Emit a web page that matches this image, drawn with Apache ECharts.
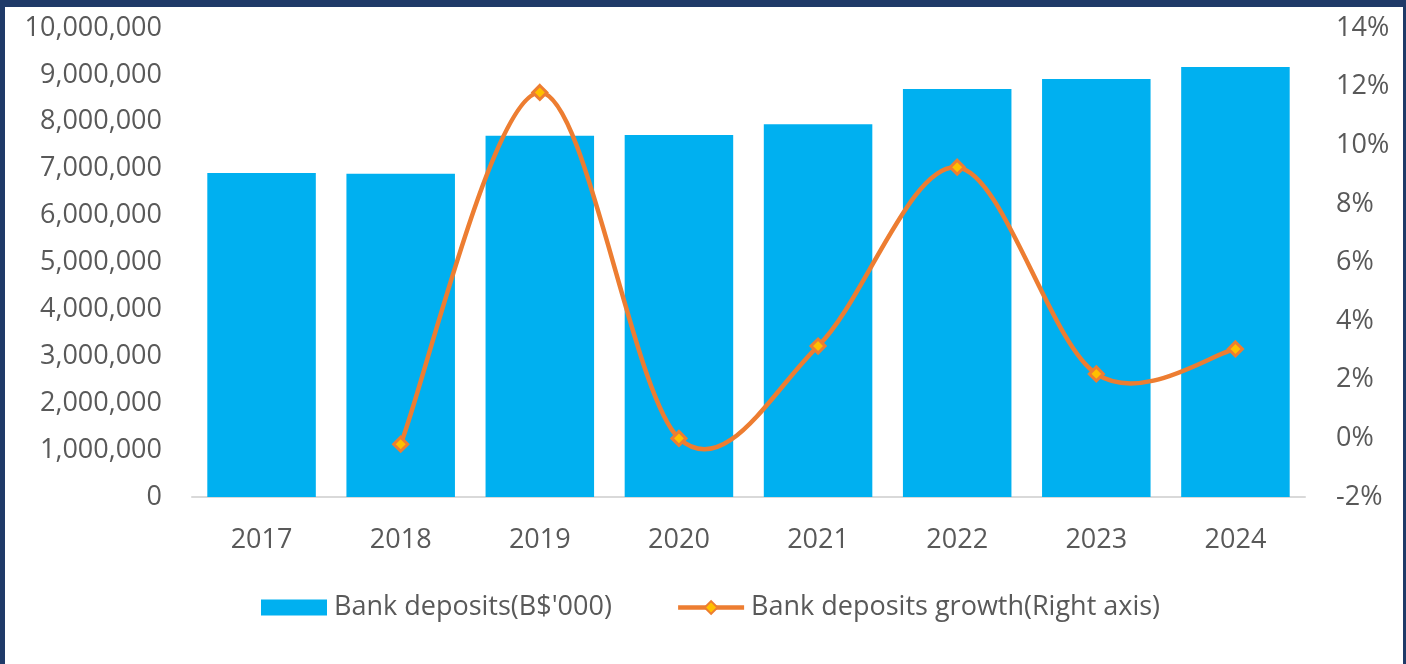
<!DOCTYPE html>
<html>
<head>
<meta charset="utf-8">
<script src="https://cdn.jsdelivr.net/npm/echarts@6/dist/echarts.min.js"></script>
<style>
  html, body { margin: 0; padding: 0; background: #ffffff; }
  #frame {
    position: absolute; left: 0; top: 0; width: 1406px; height: 664px;
    box-sizing: border-box; border-top: 7px solid #1f3a68; border-left: 5px solid #1f3a68;
    border-right: 3px solid #1f3a68; background: #ffffff;
  }
  #chart { position: absolute; left: 0; top: 0; width: 1406px; height: 664px; }
</style>
</head>
<body>
<div id="frame"></div>
<div id="chart"></div>
<script>
// Annual bank deposits (B$'000) and year-on-year growth (%)
const years = ['2017', '2018', '2019', '2020', '2021', '2022', '2023', '2024'];
const deposits = [6910000, 6890000, 7700000, 7720000, 7950000, 8700000, 8910000, 9170000];
const growth = [null, -0.2, 11.8, 0.0, 3.15, 9.25, 2.2, 3.05];

const barName = "Bank deposits(B$'000)";
const lineName = 'Bank deposits growth(Right axis)';
const FONT = 'Open Sans';
const TEXT = '#595959';
const ORANGE = '#ed7d31';

// Catmull-Rom style spline through the growth points, converted to cubic Beziers.
// Points are projected through the chart's own axes with api.coord.
function renderGrowthCurve(params, api) {
  if (params.dataIndex !== 0) return null;
  const pts = [];
  growth.forEach((v, i) => { if (v !== null) pts.push(api.coord([i, v])); });
  const n = pts.length;
  let d = 'M' + pts[0][0] + ',' + pts[0][1];
  for (let i = 0; i < n - 1; i++) {
    const p0 = pts[Math.max(i - 1, 0)];
    const p1 = pts[i];
    const p2 = pts[i + 1];
    const p3 = pts[Math.min(i + 2, n - 1)];
    const c1x = p1[0] + (p2[0] - p0[0]) / 6;
    const c1y = p1[1] + (p2[1] - p0[1]) / 6;
    const c2x = p2[0] - (p3[0] - p1[0]) / 6;
    const c2y = p2[1] - (p3[1] - p1[1]) / 6;
    d += ' C' + c1x + ',' + c1y + ' ' + c2x + ',' + c2y + ' ' + p2[0] + ',' + p2[1];
  }
  return {
    type: 'path',
    shape: { pathData: d },
    style: { fill: null, stroke: ORANGE, lineWidth: 4.5, lineJoin: 'round', lineCap: 'round' }
  };
}

const chart = echarts.init(document.getElementById('chart'), null, { renderer: 'canvas' });
chart.setOption({
  animation: false,
  backgroundColor: 'transparent',
  textStyle: { fontFamily: FONT },
  grid: { left: 192, right: 101, top: 28, bottom: 167 },
  legend: {
    left: 256, top: 589,
    itemWidth: 66, itemHeight: 16, itemGap: 64,
    textStyle: { fontFamily: FONT, fontSize: 27, color: TEXT, padding: [0, 0, 0, 2] },
    data: [
      { name: barName, icon: 'rect' },
      { name: lineName, lineStyle: { color: ORANGE, width: 4.5, opacity: 1 } }
    ]
  },
  xAxis: {
    type: 'category',
    data: years,
    axisLine: { lineStyle: { color: '#d9d9d9', width: 2 } },
    axisTick: { show: false },
    axisLabel: { fontFamily: FONT, fontSize: 27, color: TEXT, margin: 30 }
  },
  yAxis: [
    {
      type: 'value', min: 0, max: 10000000, interval: 1000000,
      splitLine: { show: false },
      axisLine: { show: false }, axisTick: { show: false },
      axisLabel: {
        fontFamily: FONT, fontSize: 27, color: TEXT, margin: 30,
        formatter: v => v.toLocaleString('en-US')
      }
    },
    {
      type: 'value', min: -2, max: 14, interval: 2, position: 'right',
      splitLine: { show: false },
      axisLine: { show: false }, axisTick: { show: false },
      axisLabel: {
        fontFamily: FONT, fontSize: 27, color: TEXT, margin: 31,
        formatter: v => v + '%'
      }
    }
  ],
  series: [
    {
      name: barName, type: 'bar', data: deposits,
      barCategoryGap: '22%',
      itemStyle: { color: '#00b0f0' }
    },
    {
      // smooth growth curve
      type: 'custom', yAxisIndex: 1, z: 3,
      renderItem: renderGrowthCurve,
      data: growth.map((v, i) => [i, v]).filter(p => p[1] !== null),
      silent: true
    },
    {
      // markers (and legend entry) for the growth series
      name: lineName, type: 'line', yAxisIndex: 1, data: growth, z: 4,
      symbol: 'diamond', symbolSize: 14,
      lineStyle: { color: ORANGE, width: 4.5, opacity: 0 },
      itemStyle: { color: '#ffc000', borderColor: ORANGE, borderWidth: 3 }
    }
  ]
});
</script>
</body>
</html>
